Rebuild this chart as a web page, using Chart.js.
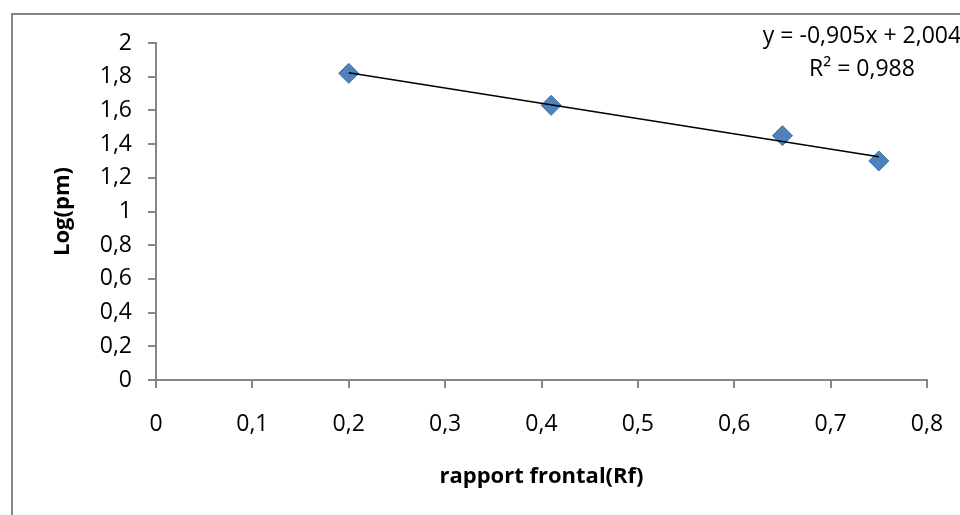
<!DOCTYPE html>
<html>
<head>
<meta charset="utf-8">
<script src="https://cdn.jsdelivr.net/npm/chart.js@4/dist/chart.umd.min.js"></script>
<style>
html,body{margin:0;padding:0;background:#fff;overflow:hidden;}
#c{display:block;}
</style>
</head>
<body>
<canvas id="c" width="960" height="515"></canvas>
<script>
// Data
const rfValues = [0.2, 0.41, 0.65, 0.75];
const logPmValues = [1.82, 1.63, 1.45, 1.30];
const trendRf = [0.2, 0.75];
const trendLogPm = [1.823, 1.325];
const xTickLabels = ['0', '0,1', '0,2', '0,3', '0,4', '0,5', '0,6', '0,7', '0,8'];
const yTickLabels = ['0', '0,2', '0,4', '0,6', '0,8', '1', '1,2', '1,4', '1,6', '1,8', '2'];
const equationLines = ['y = -0,905x + 2,004', 'R\u00B2 = 0,988'];
const xTitle = 'rapport frontal(Rf)';
const yTitle = 'Log(pm)';

const FONT = '"Open Sans", "Liberation Sans", sans-serif';
const AXIS = '#868686';

const framePlugin = {
  id: 'frame',
  beforeDraw(chart) {
    const ctx = chart.ctx;
    ctx.save();
    ctx.fillStyle = '#ffffff';
    ctx.fillRect(0, 0, chart.width, chart.height);
    ctx.strokeStyle = AXIS;
    ctx.lineWidth = 2;
    ctx.strokeRect(12, 14, 2000, 2000);
    ctx.restore();
  },
  afterDraw(chart) {
    const ctx = chart.ctx;
    ctx.save();
    ctx.fillStyle = '#000';
    ctx.font = '23px ' + FONT;
    ctx.textAlign = 'center';
    ctx.textBaseline = 'middle';
    ctx.fillText(equationLines[0], 862, 36);
    ctx.fillText(equationLines[1], 862, 69);
    ctx.restore();
  }
};

new Chart(document.getElementById('c'), {
  type: 'scatter',
  data: {
    datasets: [
      {
        label: 'Log(pm)',
        data: rfValues.map((x, i) => ({x: x, y: logPmValues[i]})),
        pointStyle: 'rectRot',
        pointRadius: 10,
        pointHoverRadius: 10,
        backgroundColor: '#4F81BD',
        borderColor: '#3F70AA',
        borderWidth: 1,
        showLine: false,
        order: 2
      },
      {
        label: 'trend',
        data: trendRf.map((x, i) => ({x: x, y: trendLogPm[i]})),
        showLine: true,
        borderColor: '#000000',
        borderWidth: 1.6,
        pointRadius: 0,
        fill: false,
        order: 1
      }
    ]
  },
  options: {
    responsive: false,
    animation: false,
    events: [],
    layout: { padding: { left: 0, top: 43, right: 33, bottom: 0 } },
    plugins: { legend: { display: false }, tooltip: { enabled: false } },
    scales: {
      x: {
        type: 'linear',
        min: 0, max: 0.8,
        afterBuildTicks(scale) {
          scale.ticks = xTickLabels.map((_, i) => ({value: i / 10}));
        },
        afterFit(scale) {
          scale.height = 135;
          scale.paddingLeft = 0; scale.paddingRight = 0;
          scale.paddingTop = 0; scale.paddingBottom = 0;
        },
        grid: { drawOnChartArea: false, drawTicks: true, tickLength: 8, color: AXIS, lineWidth: 2 },
        border: { color: AXIS, width: 2 },
        ticks: {
          padding: 23,
          color: '#000',
          font: { family: FONT, size: 23 },
          maxRotation: 0,
          autoSkip: false,
          callback: (v, i) => xTickLabels[i]
        },
        title: {
          display: true,
          text: xTitle,
          color: '#000',
          font: { family: FONT, size: 22, weight: 'bold' },
          padding: { top: 0, bottom: 25 }
        }
      },
      y: {
        type: 'linear',
        min: 0, max: 2,
        afterBuildTicks(scale) {
          scale.ticks = yTickLabels.map((_, i) => ({value: i / 5}));
        },
        afterFit(scale) {
          scale.width = 156;
          scale.paddingLeft = 0; scale.paddingRight = 0;
          scale.paddingTop = 0; scale.paddingBottom = 0;
        },
        grid: { drawOnChartArea: false, drawTicks: true, tickLength: 8, color: AXIS, lineWidth: 2 },
        border: { color: AXIS, width: 2 },
        ticks: {
          padding: 16,
          color: '#000',
          font: { family: FONT, size: 23 },
          autoSkip: false,
          callback: (v, i) => yTickLabels[i]
        },
        title: {
          display: true,
          text: yTitle,
          color: '#000',
          font: { family: FONT, size: 22, weight: 'bold' },
          padding: { top: 50, bottom: 0 }
        }
      }
    }
  },
  plugins: [framePlugin]
});
</script>
</body>
</html>
